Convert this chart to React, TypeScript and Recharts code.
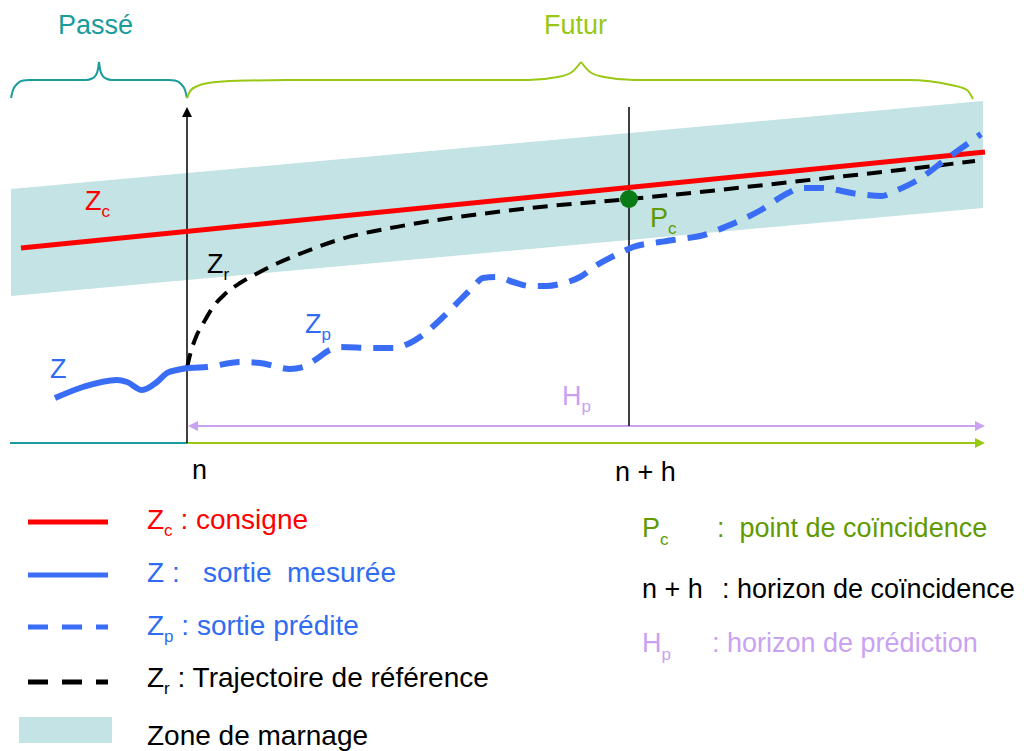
import React from "react";
import { ComposedChart, Line, Area, Scatter, XAxis, YAxis } from "recharts";

// t = time, 0 at instant n ; y = height above the time axis
const zoneMarnage = [
  { t: -176, band: [144, 251] },
  { t: 796, band: [232, 339] },
];

const consigne = [
  { t: -166, y: 192 },
  { t: 798, y: 288 },
];

const trajectoire = [
  { t: 0, y: 72 }, { t: 3, y: 85 }, { t: 9, y: 103 }, { t: 17, y: 118 },
  { t: 26, y: 133 }, { t: 37, y: 145 }, { t: 53, y: 157 }, { t: 71, y: 167 },
  { t: 91, y: 177 }, { t: 115, y: 187 }, { t: 151, y: 200 }, { t: 220, y: 215 },
  { t: 286, y: 225 }, { t: 353, y: 233 }, { t: 442, y: 241 }, { t: 513, y: 248 },
  { t: 613, y: 259 }, { t: 713, y: 270 }, { t: 788, y: 279 },
];

const mesure = [
  { t: -132, y: 42 }, { t: -104, y: 53 }, { t: -70, y: 60 }, { t: -60, y: 58 },
  { t: -45, y: 50 }, { t: -30, y: 58 }, { t: -20, y: 67 }, { t: -10, y: 70 },
  { t: 1, y: 72 },
];

const predite = [
  { t: 1, y: 72 }, { t: 20, y: 73 }, { t: 53, y: 78 }, { t: 73, y: 77 },
  { t: 103, y: 71 }, { t: 116, y: 73 }, { t: 128, y: 80 }, { t: 143, y: 90 },
  { t: 153, y: 93 }, { t: 186, y: 92 }, { t: 206, y: 92 }, { t: 223, y: 97 },
  { t: 233, y: 103 }, { t: 253, y: 120 }, { t: 276, y: 143 }, { t: 286, y: 153 },
  { t: 296, y: 162 }, { t: 310, y: 163 }, { t: 326, y: 158 }, { t: 343, y: 154 },
  { t: 360, y: 154 }, { t: 373, y: 156 }, { t: 393, y: 163 }, { t: 410, y: 175 },
  { t: 433, y: 187 }, { t: 446, y: 193 }, { t: 473, y: 198 }, { t: 493, y: 201 },
  { t: 513, y: 204 }, { t: 543, y: 215 }, { t: 574, y: 230 }, { t: 601, y: 247 },
  { t: 614, y: 252 }, { t: 634, y: 252 }, { t: 671, y: 246 }, { t: 695, y: 244 },
  { t: 708, y: 249 }, { t: 729, y: 259 }, { t: 762, y: 283 }, { t: 783, y: 298 },
  { t: 794, y: 306 },
];

const pointCoincidence = [{ t: 442, y: 241 }];

const axePasse = [{ t: -177, y: -3 }, { t: 0, y: -3 }];
const axeFutur = [{ t: 0, y: -3 }, { t: 790, y: -3 }];
const instantN = [{ t: 0, y: -3 }, { t: 0, y: 325 }];
const instantNH = [{ t: 442, y: 14 }, { t: 442, y: 333 }];
const horizonHp = [{ t: 8, y: 14 }, { t: 790, y: 14 }];

const arrowHeads = [
  { t: 0, y: 333, dir: "up", kind: "n" },
  { t: 798, y: -3, dir: "right", kind: "futur" },
  { t: 1, y: 14, dir: "left", kind: "hp" },
  { t: 798, y: 14, dir: "right", kind: "hp" },
];

// braces split at their peak so the tip stays sharp
const bracePasseL = [
  { t: -176, y: 342 }, { t: -174, y: 350 }, { t: -170, y: 356 }, { t: -164, y: 359.5 },
  { t: -158, y: 360 }, { t: -101, y: 360 }, { t: -95, y: 361.5 }, { t: -91, y: 365 },
  { t: -89, y: 371 }, { t: -88, y: 378 },
];
const bracePasseR = [
  { t: -88, y: 378 }, { t: -87, y: 371 }, { t: -85, y: 365 }, { t: -81, y: 361.5 },
  { t: -75, y: 360 }, { t: -18, y: 360 }, { t: -12, y: 359.5 }, { t: -6, y: 356 },
  { t: -2, y: 350 }, { t: 0, y: 342 },
];
const braceFuturL = [
  { t: 0, y: 342 }, { t: 4, y: 350 }, { t: 13, y: 355 }, { t: 30, y: 358 },
  { t: 63, y: 359.5 }, { t: 100, y: 360 }, { t: 341, y: 360 }, { t: 371, y: 363 },
  { t: 385, y: 368 }, { t: 394, y: 378 },
];
const braceFuturR = [
  { t: 394, y: 378 }, { t: 403, y: 368 }, { t: 417, y: 363 }, { t: 447, y: 360 },
  { t: 721, y: 360 }, { t: 764, y: 355 }, { t: 780, y: 350 }, { t: 786, y: 341 },
];

const labels = [
  { t: -129, y: 406, text: "Passé", kind: "passe" },
  { t: 357, y: 406, text: "Futur", kind: "futur" },
  { t: -102, y: 230, text: "Z", sub: "c", kind: "consigne" },
  { t: 20, y: 167, text: "Z", sub: "r", kind: "ref" },
  { t: 118, y: 107, text: "Z", sub: "p", kind: "mesure" },
  { t: -137, y: 62, text: "Z", kind: "mesure" },
  { t: 463, y: 213, text: "P", sub: "c", kind: "pc" },
  { t: 375, y: 35, text: "H", sub: "p", kind: "hp" },
  { t: 5, y: -39, text: "n", kind: "ref" },
  { t: 428, y: -41, text: "n + h", kind: "ref" },
];

const legendLeft = [
  { main: "Z", sub: "c", desc: " : consigne", kind: "consigne" },
  { main: "Z", sub: "", desc: " :   sortie  mesurée", kind: "mesure" },
  { main: "Z", sub: "p", desc: " : sortie prédite", kind: "mesure" },
  { main: "Z", sub: "r", desc: " : Trajectoire de référence", kind: "ref" },
  { main: "Zone de marnage", sub: "", desc: "", kind: "ref" },
];

const legendRight = [
  { main: "P", sub: "c", desc: ":  point de coïncidence", kind: "pc" },
  { main: "n + h", sub: "", desc: ": horizon de coïncidence", kind: "ref" },
  { main: "H", sub: "p", desc: ": horizon de prédiction", kind: "hp" },
];

const COLORS: Record<string, string> = {
  consigne: "#ff0000",
  mesure: "#2f6cf2",
  ref: "#000000",
  pc: "#5f9a00",
  hp: "#c9a2f2",
  passe: "#1a9c9c",
  futur: "#99c814",
  n: "#000000",
};
const BLUE_LINE = "#3a6df5";
const BAND = "#c4e3e4";
const DOT = "#0a7a14";
const FONT = "'Liberation Sans', Arial, sans-serif";

const LabelShape = (props: any) => {
  const { cx, cy, payload } = props;
  return (
    <text x={cx} y={cy} fontFamily={FONT} fontSize={27} fill={COLORS[payload.kind]}>
      {payload.text}
      {payload.sub ? (
        <tspan dy={7} fontSize={17}>
          {payload.sub}
        </tspan>
      ) : null}
    </text>
  );
};

const ArrowShape = (props: any) => {
  const { cx, cy, payload } = props;
  const L = 10;
  const W = 5;
  let pts = "";
  if (payload.dir === "up") pts = `${cx},${cy} ${cx - W},${cy + L} ${cx + W},${cy + L}`;
  if (payload.dir === "right") pts = `${cx},${cy} ${cx - L},${cy - W} ${cx - L},${cy + W}`;
  if (payload.dir === "left") pts = `${cx},${cy} ${cx + L},${cy - W} ${cx + L},${cy + W}`;
  return <polygon points={pts} fill={COLORS[payload.kind]} />;
};

const line = (data: any[], stroke: string, width: number, dash?: string, type: any = "monotone") => (
  <Line
    data={data}
    dataKey="y"
    type={type}
    stroke={stroke}
    strokeWidth={width}
    strokeDasharray={dash}
    dot={false}
    activeDot={false}
    isAnimationActive={false}
  />
);

const LegendSvg = () => {
  const rowsLeft = [529, 582, 635, 687, 745];
  const samplesY = [522, 575, 627, 682];
  const samples = [
    { stroke: COLORS.consigne, dash: undefined },
    { stroke: BLUE_LINE, dash: undefined },
    { stroke: BLUE_LINE, dash: "20 14" },
    { stroke: "#000", dash: "20 14" },
  ];
  const rowsRight = [537, 598, 652];
  const descX = [717, 722, 712];
  return (
    <svg
      width={1024}
      height={751}
      style={{ position: "absolute", left: 0, top: 0, pointerEvents: "none" }}
      fontFamily={FONT}
      fontSize={28}
    >
      {samples.map((s, i) => (
        <line key={i} x1={28} x2={108} y1={samplesY[i]} y2={samplesY[i]} stroke={s.stroke} strokeWidth={5} strokeDasharray={s.dash} />
      ))}
      <rect x={19} y={717} width={93} height={26} fill={BAND} />
      {legendLeft.map((it, i) => (
        <text key={i} x={147} y={rowsLeft[i]} fill={COLORS[it.kind]} style={{ whiteSpace: "pre" }}>
          {it.main}
          {it.sub ? (
            <tspan dy={7} fontSize={17}>
              {it.sub}
            </tspan>
          ) : null}
          <tspan dy={it.sub ? -7 : 0}>{it.desc}</tspan>
        </text>
      ))}
      {legendRight.map((it, i) => (
        <g key={i} fill={COLORS[it.kind]} fontSize={27}>
          <text x={642} y={rowsRight[i]}>
            {it.main}
            {it.sub ? (
              <tspan dy={8} fontSize={17}>
                {it.sub}
              </tspan>
            ) : null}
          </text>
          <text x={descX[i]} y={rowsRight[i]} style={{ whiteSpace: "pre" }}>
            {it.desc}
          </text>
        </g>
      ))}
    </svg>
  );
};

export default function App() {
  return (
    <div style={{ position: "absolute", left: 0, top: 0, width: 1024, height: 751, background: "#fff" }}>
      <ComposedChart width={1024} height={751} margin={{ top: 0, right: 0, bottom: 0, left: 0 }}>
        <XAxis hide type="number" dataKey="t" domain={[-187, 837]} />
        <YAxis hide type="number" dataKey="y" domain={[-311, 440]} />
        <Area
          data={zoneMarnage}
          dataKey="band"
          type="linear"
          stroke="none"
          fill={BAND}
          fillOpacity={1}
          isAnimationActive={false}
          dot={false}
          activeDot={false}
        />
        {line(bracePasseL, COLORS.passe, 2)}
        {line(bracePasseR, COLORS.passe, 2)}
        {line(braceFuturL, COLORS.futur, 2)}
        {line(braceFuturR, COLORS.futur, 2)}
        {line(axePasse, COLORS.passe, 2, undefined, "linear")}
        {line(axeFutur, COLORS.futur, 2, undefined, "linear")}
        {line(horizonHp, COLORS.hp, 2, undefined, "linear")}
        {line(instantN, "#000", 1.5, undefined, "linear")}
        {line(instantNH, "#000", 1.5, undefined, "linear")}
        {line(consigne, COLORS.consigne, 5, undefined, "linear")}
        {line(trajectoire, "#000", 4, "15 9")}
        {line(mesure, BLUE_LINE, 6)}
        {line(predite, BLUE_LINE, 6, "20 12")}
        <Scatter data={pointCoincidence} fill={DOT} shape={(p: any) => <circle cx={p.cx} cy={p.cy} r={9} fill={DOT} />} isAnimationActive={false} />
        <Scatter data={arrowHeads} shape={ArrowShape} isAnimationActive={false} />
        <Scatter data={labels} shape={LabelShape} isAnimationActive={false} />
      </ComposedChart>
      <LegendSvg />
    </div>
  );
}
